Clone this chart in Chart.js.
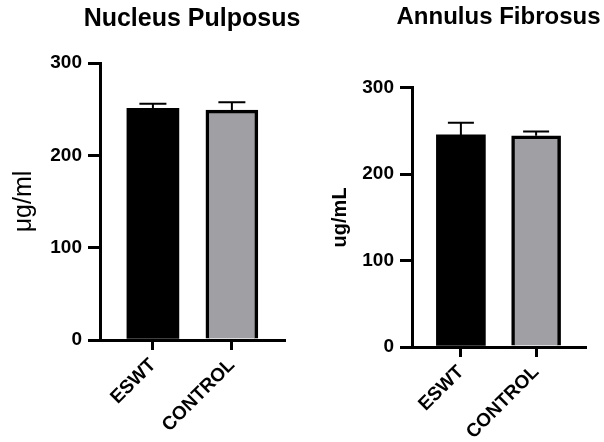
<!DOCTYPE html>
<html>
<head>
<meta charset="utf-8">
<script src="https://cdn.jsdelivr.net/npm/chart.js@4.4.1/dist/chart.umd.min.js"></script>
<style>
  html, body { margin: 0; padding: 0; background: #fff; }
  #wrap { position: relative; width: 604px; height: 442px; }
  canvas { position: absolute; top: 0; }
</style>
</head>
<body>
<div id="wrap">
  <canvas id="npChart" width="320" height="442" style="left:0"></canvas>
  <canvas id="afChart" width="304" height="442" style="left:300px"></canvas>
</div>
<script>
const groups = ["ESWT", "CONTROL"];
const groupPos = [0, 1];
const barColors = ["#000000", "#a0a0a4"];

const npMeans = [251, 249];
const npErrors = [5, 8.5];

const afMeans = [245.5, 244.5];
const afErrors = [14, 5];

const FONT = "'Liberation Sans', Arial, sans-serif";

// upward-only error bars with a cap
const errorBars = {
    id: "errorBars",
    afterDatasetsDraw(chart, args, opts) {
        const ctx = chart.ctx;
        const yScale = chart.scales.y;
        const ds = chart.data.datasets[0];
        const meta = chart.getDatasetMeta(0);
        ctx.save();
        ctx.strokeStyle = "#000";
        ctx.lineWidth = 2;
        meta.data.forEach((bar, i) => {
            const top = yScale.getPixelForValue(ds.data[i].y + ds.errors[i]);
            const half = opts.cap / 2;
            ctx.beginPath();
            ctx.moveTo(bar.x, bar.y);
            ctx.lineTo(bar.x, top);
            ctx.moveTo(bar.x - half, top);
            ctx.lineTo(bar.x + half, top);
            ctx.stroke();
        });
        ctx.restore();
    },
};

// title box is only as wide as the chart area, which squeezes the text;
// widen it evenly so the centre stays over the plot
const wideTitle = {
    id: "wideTitle",
    afterLayout(chart) {
        const t = chart.titleBlock;
        if (!t) return;
        t.left -= 60;
        t.right += 60;
    },
};

function makeChart(id, means, errors, cfg) {
    const ctx = document.getElementById(id).getContext("2d");
    return new Chart(ctx, {
        type: "bar",
        data: {
            datasets: [
                {
                    data: groupPos.map((x, i) => ({ x: x, y: means[i] })),
                    errors: errors,
                    backgroundColor: barColors,
                    borderColor: "#000",
                    borderWidth: [0, 3.5],
                    borderSkipped: "bottom",
                    barThickness: cfg.barWidth,
                },
            ],
        },
        plugins: [errorBars, wideTitle],
        options: {
            responsive: false,
            animation: false,
            layout: {
                padding: { left: 0, right: cfg.padRight, top: 0, bottom: 0 },
            },
            scales: {
                x: {
                    type: "linear",
                    offset: false,
                    min: cfg.xMin,
                    max: cfg.xMax,
                    afterBuildTicks: (s) => {
                        s.ticks = groupPos.map((v) => ({ value: v }));
                    },
                    afterFit: (s) => {
                        s.height = cfg.xHeight;
                    },
                    grid: {
                        offset: false,
                        drawOnChartArea: false,
                        drawTicks: true,
                        tickLength: 10,
                        color: "#000",
                        lineWidth: 3,
                    },
                    border: { color: "#000", width: 3 },
                    ticks: {
                        minRotation: 45,
                        maxRotation: 45,
                        padding: 4,
                        color: "#000",
                        font: { family: FONT, size: 19, weight: "bold" },
                        callback: (v, i) => groups[i],
                    },
                },
                y: {
                    min: 0,
                    max: 300,
                    afterFit: (s) => {
                        s.width = cfg.yWidth;
                    },
                    grid: {
                        drawOnChartArea: false,
                        drawTicks: true,
                        tickLength: 12,
                        color: "#000",
                        lineWidth: 3,
                    },
                    border: { color: "#000", width: 3 },
                    ticks: {
                        stepSize: 100,
                        padding: 6,
                        color: "#000",
                        font: { family: FONT, size: 19, weight: "bold" },
                    },
                    title: {
                        display: true,
                        text: cfg.yTitle,
                        color: "#000",
                        padding: { top: cfg.yTitlePad, bottom: 0 },
                        font: { family: FONT, size: cfg.yTitleSize, weight: cfg.yTitleWeight },
                    },
                },
            },
            plugins: {
                legend: { display: false },
                tooltip: { enabled: false },
                errorBars: { cap: cfg.cap },
                title: {
                    display: true,
                    fullSize: false,
                    text: cfg.title,
                    color: "#000",
                    font: { family: FONT, size: cfg.titleSize, weight: "bold" },
                    padding: { top: cfg.titleTop, bottom: cfg.titleBottom },
                },
            },
        },
    });
}

makeChart("npChart", npMeans, npErrors, {
    title: "Nucleus Pulposus",
    titleSize: 25,
    titleTop: 4,
    titleBottom: 29,
    yTitle: "μg/ml",
    yTitleSize: 25,
    yTitleWeight: "normal",
    yTitlePad: 9,
    yWidth: 100,
    xHeight: 102,
    padRight: 36,
    xMin: -0.67,
    xMax: 1.66,
    barWidth: 52,
    cap: 27,
});

makeChart("afChart", afMeans, afErrors, {
    title: "Annulus Fibrosus",
    titleSize: 24,
    titleTop: 3,
    titleBottom: 56,
    yTitle: "ug/mL",
    yTitleSize: 20,
    yTitleWeight: "bold",
    yTitlePad: 28,
    yWidth: 112,
    xHeight: 95,
    padRight: 19,
    xMin: -0.65,
    xMax: 1.65,
    barWidth: 49,
    cap: 26,
});
</script>
</body>
</html>
